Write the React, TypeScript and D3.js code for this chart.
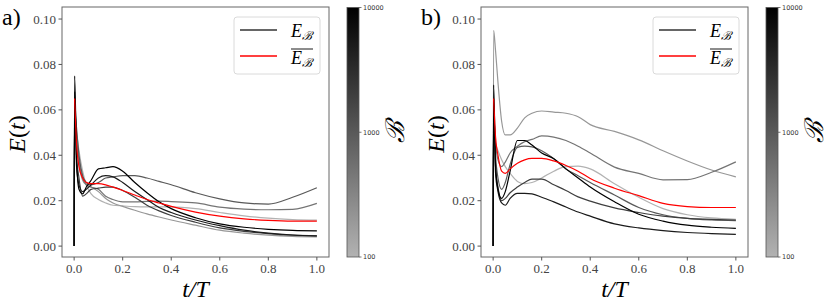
import React from "react";
import * as d3 from "d3";

// time grid shared by all series (t/T)
const tGrid = [0, 0.002, 0.01, 0.02, 0.035, 0.05, 0.07, 0.1, 0.13, 0.16, 0.2, 0.25, 0.3, 0.35, 0.4, 0.5, 0.6, 0.7, 0.8, 0.9, 1.0];

const bValues = [100, 200, 500, 1000, 2000, 5000, 10000];

// panel a) energy per batch size
const a100 = [0, 0.06, 0.05, 0.042, 0.033, 0.027, 0.023, 0.0205, 0.019, 0.018, 0.0177, 0.0174, 0.0173, 0.0173, 0.0173, 0.0165, 0.0148, 0.0133, 0.0123, 0.0117, 0.0114];
const a200 = [0, 0.058, 0.045, 0.036, 0.029, 0.027, 0.026, 0.024, 0.021, 0.019, 0.0175, 0.0158, 0.0142, 0.0128, 0.0115, 0.0092, 0.007, 0.0057, 0.0048, 0.0043, 0.0041];
const a500 = [0, 0.062, 0.048, 0.038, 0.03, 0.027, 0.026, 0.025, 0.022, 0.0205, 0.0195, 0.0195, 0.0197, 0.0198, 0.0196, 0.019, 0.0172, 0.0163, 0.016, 0.0162, 0.0188];
const a1000 = [0, 0.063, 0.052, 0.04, 0.031, 0.028, 0.027, 0.028, 0.03, 0.0305, 0.031, 0.031, 0.03, 0.0285, 0.027, 0.0235, 0.0208, 0.019, 0.0185, 0.0215, 0.0257];
const a2000 = [0, 0.064, 0.04, 0.03, 0.022, 0.023, 0.025, 0.0255, 0.026, 0.026, 0.0245, 0.0215, 0.018, 0.0155, 0.0135, 0.0105, 0.008, 0.0065, 0.0055, 0.0048, 0.0045];
const a5000 = [0, 0.068, 0.035, 0.027, 0.024, 0.025, 0.027, 0.03, 0.031, 0.0305, 0.028, 0.024, 0.0205, 0.017, 0.0148, 0.0115, 0.009, 0.007, 0.0057, 0.0049, 0.0045];
const a10000 = [0, 0.075, 0.038, 0.025, 0.023, 0.026, 0.029, 0.034, 0.0345, 0.035, 0.033, 0.028, 0.0235, 0.0195, 0.0165, 0.0125, 0.0098, 0.0083, 0.0074, 0.0069, 0.0067];
const aMean = [null, 0.065, 0.045, 0.035, 0.03, 0.028, 0.0275, 0.0275, 0.027, 0.026, 0.0245, 0.0225, 0.0205, 0.019, 0.0175, 0.015, 0.0132, 0.012, 0.0113, 0.011, 0.011];

// panel b)
const b100 = [0, 0.05, 0.045, 0.042, 0.038, 0.035, 0.032, 0.0285, 0.0275, 0.028, 0.03, 0.033, 0.035, 0.0352, 0.034, 0.0275, 0.0215, 0.0165, 0.0138, 0.0124, 0.0118];
const b200 = [0, 0.095, 0.086, 0.072, 0.055, 0.049, 0.049, 0.052, 0.0565, 0.0585, 0.0595, 0.059, 0.0585, 0.057, 0.0535, 0.0505, 0.0468, 0.042, 0.0375, 0.0335, 0.0305];
const b500 = [0, 0.055, 0.045, 0.038, 0.035, 0.037, 0.041, 0.044, 0.046, 0.047, 0.0485, 0.048, 0.0465, 0.044, 0.041, 0.0348, 0.032, 0.0292, 0.0293, 0.0325, 0.0371];
const b1000 = [0, 0.06, 0.04, 0.03, 0.025, 0.028, 0.036, 0.0435, 0.044, 0.0437, 0.042, 0.0385, 0.034, 0.031, 0.028, 0.0225, 0.017, 0.0138, 0.0122, 0.0115, 0.0112];
const b2000 = [0, 0.062, 0.035, 0.026, 0.02, 0.021, 0.0235, 0.026, 0.028, 0.0295, 0.0295, 0.027, 0.0245, 0.0217, 0.0198, 0.0168, 0.0148, 0.0132, 0.0122, 0.0118, 0.0115];
const b5000 = [0, 0.065, 0.032, 0.024, 0.019, 0.018, 0.021, 0.0232, 0.0232, 0.023, 0.0215, 0.0195, 0.0172, 0.015, 0.0132, 0.0098, 0.008, 0.0068, 0.006, 0.0055, 0.0052];
const b10000 = [0, 0.071, 0.035, 0.025, 0.021, 0.024, 0.033, 0.0465, 0.0465, 0.0445, 0.041, 0.0385, 0.034, 0.03, 0.026, 0.0195, 0.014, 0.011, 0.0092, 0.0083, 0.0078];
const bMean = [null, 0.065, 0.048, 0.04, 0.033, 0.032, 0.034, 0.0365, 0.038, 0.0386, 0.0386, 0.0375, 0.0355, 0.033, 0.0298, 0.0255, 0.0222, 0.0188, 0.0174, 0.017, 0.017];

const seriesA = [a100, a200, a500, a1000, a2000, a5000, a10000];
const seriesB = [b100, b200, b500, b1000, b2000, b5000, b10000];

const xTicks = [0, 0.2, 0.4, 0.6, 0.8, 1.0];
const yTicks = [0, 0.02, 0.04, 0.06, 0.08, 0.1];
const cbTicks = [100, 1000, 10000];

const SERIF = "'Liberation Serif', 'DejaVu Serif', serif";

// B -> grey, log scale, light grey for 100 and black for 10000
const greyOf = d3
  .scaleLog<string>()
  .domain([100, 10000])
  .range(["#b2b2b2", "#000000"])
  .interpolate(d3.interpolateRgb);

type PanelProps = {
  left: number;
  right: number;
  label: string;
  series: number[][];
  mean: (number | null)[];
  gradId: string;
};

const TOP = 7;
const BOTTOM = 257;

function Panel({ left, right, label, series, mean, gradId }: PanelProps) {
  const x = d3.scaleLinear().domain([-0.05, 1.05]).range([left, right]);
  const y = d3.scaleLinear().domain([-0.0048, 0.1053]).range([BOTTOM, TOP]);

  const line = d3
    .line<number | null>()
    .defined((d) => d != null)
    .x((_, i) => x(tGrid[i]))
    .y((d) => y(d as number))
    .curve(d3.curveMonotoneX);

  const cbLeft = right + 18;
  const cbW = 12;
  const cbTop = 7.5;
  const cb = d3.scaleLog().domain([100, 10000]).range([BOTTOM, cbTop]);

  const legX = right - 95;
  const legY = 17;
  const mid = (left + right) / 2;

  return (
    <g>
      <text x={left - 60} y={25} fontFamily={SERIF} fontSize={24}>
        {label}
      </text>

      {/* curves */}
      {series.map((s, k) => (
        <path
          key={k}
          d={line(s) || ""}
          fill="none"
          stroke={greyOf(bValues[k])}
          strokeWidth={1.2}
        />
      ))}
      <path d={line(mean) || ""} fill="none" stroke="#ff0000" strokeWidth={1.2} />

      {/* frame */}
      <rect x={left} y={TOP} width={right - left} height={BOTTOM - TOP} fill="none" stroke="#666" strokeWidth={1} />

      {/* y axis */}
      {yTicks.map((v) => (
        <g key={v}>
          <line x1={left - 3.5} x2={left} y1={y(v)} y2={y(v)} stroke="#555" />
          <text x={left - 6} y={y(v)} dy="0.35em" textAnchor="end" fontFamily={SERIF} fontSize={13} fill="#444">
            {v.toFixed(2)}
          </text>
        </g>
      ))}
      {/* x axis */}
      {xTicks.map((v) => (
        <g key={v}>
          <line x1={x(v)} x2={x(v)} y1={BOTTOM} y2={BOTTOM + 3.5} stroke="#555" />
          <text x={x(v)} y={BOTTOM + 16} textAnchor="middle" fontFamily={SERIF} fontSize={13} fill="#444">
            {v.toFixed(1)}
          </text>
        </g>
      ))}

      <text
        transform={`translate(${left - 37},134) rotate(-90)`}
        textAnchor="middle"
        fontFamily={SERIF}
        fontSize={24}
      >
        <tspan fontStyle="italic">E</tspan>(<tspan fontStyle="italic">t</tspan>)
      </text>
      <text x={mid} y={297} textAnchor="middle" fontFamily={SERIF} fontSize={24} fontStyle="italic">
        t/T
      </text>

      {/* legend */}
      <rect x={legX} y={legY} width={86} height={57} rx={3} fill="#fff" stroke="#d0d0d0" strokeWidth={0.8} />
      <line x1={legX + 6} x2={legX + 43} y1={legY + 13} y2={legY + 13} stroke="#333" strokeWidth={1.3} />
      <line x1={legX + 6} x2={legX + 43} y1={legY + 39} y2={legY + 39} stroke="#ff0000" strokeWidth={1.3} />
      <text x={legX + 57} y={legY + 20} fontFamily={SERIF} fontSize={18}>
        <tspan fontStyle="italic">E</tspan>
        <tspan fontSize={12} dy={3} fontFamily="'DejaVu Serif', serif" fontStyle="italic">ℬ</tspan>
      </text>
      <line x1={legX + 57} x2={legX + 79} y1={legY + 32} y2={legY + 32} stroke="#000" strokeWidth={0.9} />
      <text x={legX + 57} y={legY + 47} fontFamily={SERIF} fontSize={18}>
        <tspan fontStyle="italic">E</tspan>
        <tspan fontSize={12} dy={3} fontFamily="'DejaVu Serif', serif" fontStyle="italic">ℬ</tspan>
      </text>

      {/* colour bar */}
      <defs>
        <linearGradient id={gradId} x1="0" y1="1" x2="0" y2="0">
          <stop offset="0%" stopColor={greyOf(100)} />
          <stop offset="50%" stopColor={greyOf(1000)} />
          <stop offset="100%" stopColor={greyOf(10000)} />
        </linearGradient>
      </defs>
      <rect x={cbLeft} y={cbTop} width={cbW} height={BOTTOM - cbTop} fill={`url(#${gradId})`} stroke="#555" strokeWidth={0.8} />
      {cbTicks.map((v) => (
        <g key={v}>
          <line x1={cbLeft + cbW} x2={cbLeft + cbW + 2.5} y1={cb(v)} y2={cb(v)} stroke="#555" strokeWidth={0.8} />
          <text x={cbLeft + cbW + 4} y={cb(v)} dy="0.35em" fontFamily="'DejaVu Sans', sans-serif" fontSize={6.5} fill="#333">
            {v}
          </text>
        </g>
      ))}
      <text
        transform={`translate(${cbLeft + 48},${(cbTop + BOTTOM) / 2}) rotate(-90)`}
        textAnchor="middle"
        dy="0.35em"
        fontFamily="'DejaVu Serif', serif"
        fontStyle="italic"
        fontSize={26}
      >
        ℬ
      </text>
    </g>
  );
}

export default function App() {
  return (
    <svg width={830} height={308} style={{ position: "absolute", left: 0, top: 0, background: "#fff" }}>
      <Panel left={62} right={329} label="a)" series={seriesA} mean={aMean} gradId="cbA" />
      <Panel left={481} right={748} label="b)" series={seriesB} mean={bMean} gradId="cbB" />
    </svg>
  );
}
